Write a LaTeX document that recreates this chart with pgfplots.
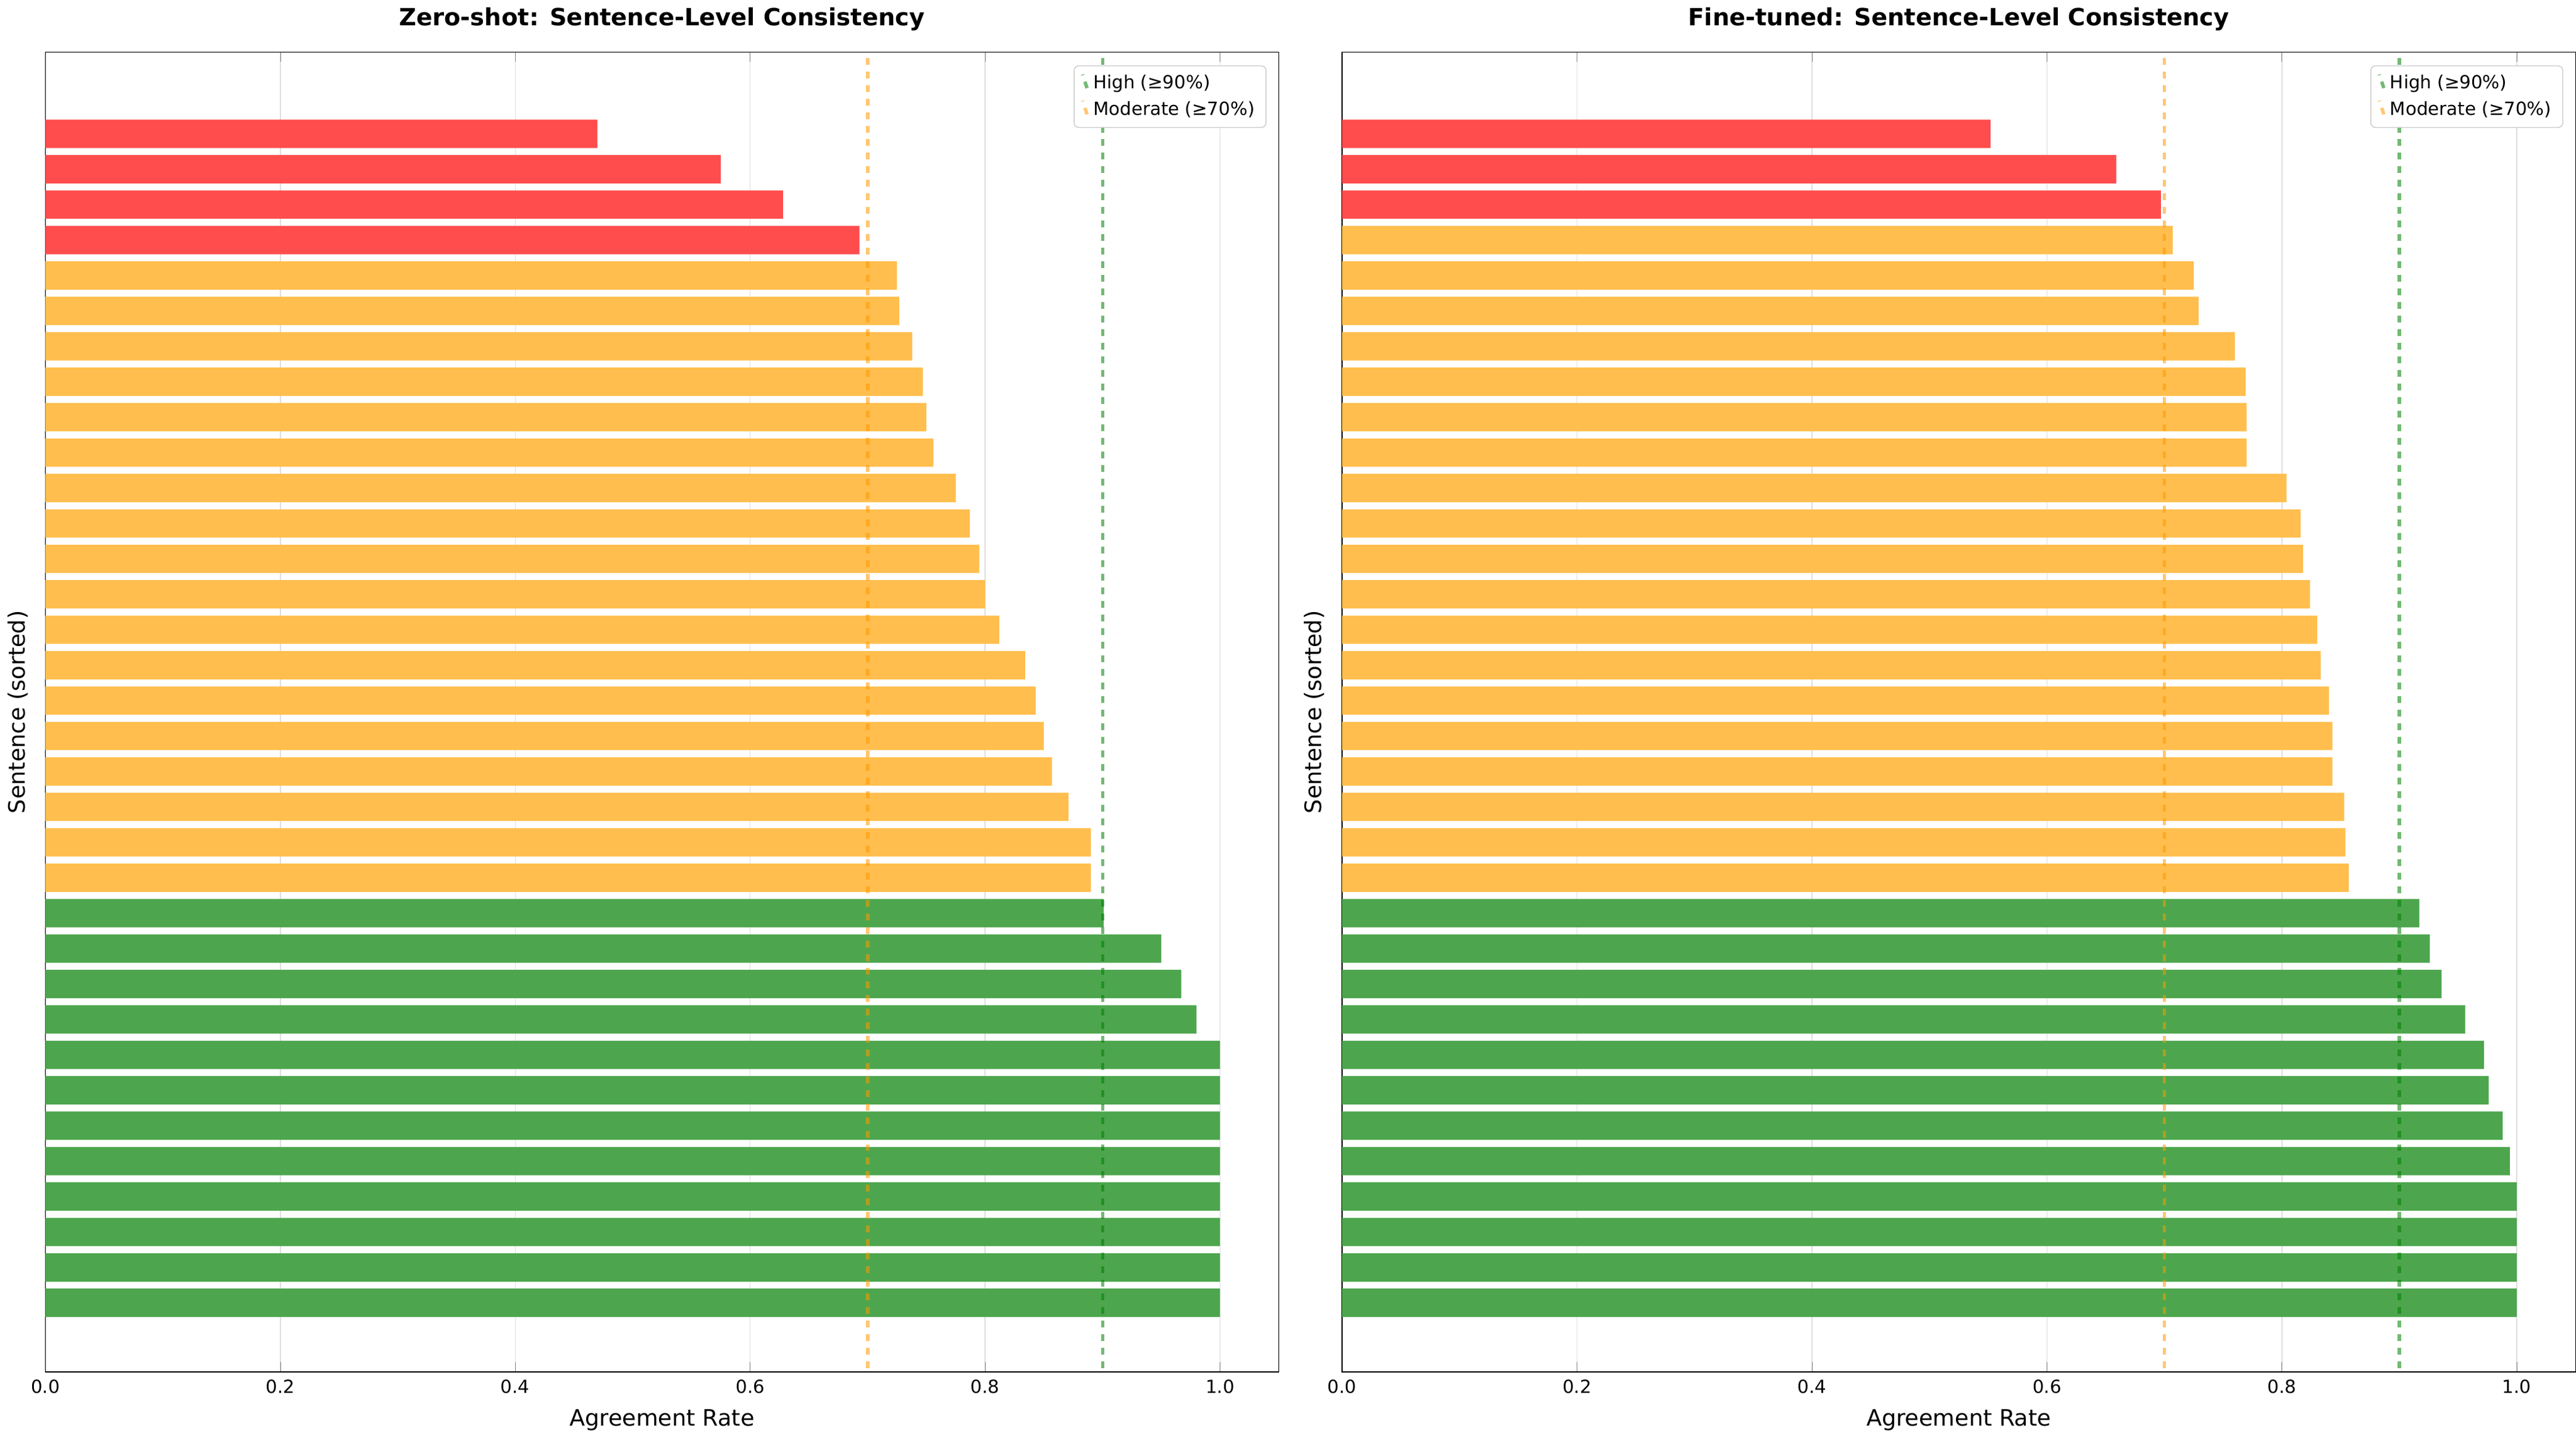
\documentclass[border=0pt]{standalone}
\usepackage{pgfplots}
\pgfplotsset{compat=1.18}
\usepackage{fontspec}
\setmainfont{DejaVu Sans}
\definecolor{cr}{RGB}{255,77,77}
\definecolor{co}{RGB}{255,190,77}
\definecolor{cg}{RGB}{77,166,77}
\pgfplotsset{panel/.style={
 scale only axis, width=545pt, height=583pt,
 xmin=0, xmax=1.05, ymin=-1.95, ymax=35.3,
 ytick=\empty, xtick={0,0.2,0.4,0.6,0.8,1.0},
 xticklabel style={/pgf/number format/.cd,fixed,fixed zerofill,precision=1},
 /pgf/number format/assume math mode=true,
 tick label style={font=\fontsize{8}{9}\selectfont},
 xmajorgrids, grid style={gray!25},
 xbar, bar width=0.8, bar shift=0pt,
 xlabel={Agreement Rate}, ylabel={Sentence (sorted)},
 label style={font=\fontsize{10}{12}\selectfont},
 title style={font=\bfseries\fontsize{10.5}{12}\selectfont},
 legend style={at={(0.99,0.99)},anchor=north east,font=\fontsize{8}{10}\selectfont,draw=gray!40,rounded corners=2pt},
 legend cell align=left,
}}
\begin{document}
\begin{tikzpicture}
\begin{axis}[panel, title={Zero-shot: Sentence-Level Consistency}]
\addplot[fill=cr,draw=none,forget plot] coordinates {(0.47,33)(0.575,32)(0.628,31)(0.693,30)};
\addplot[fill=co,draw=none,forget plot] coordinates {(0.725,29)(0.727,28)(0.738,27)(0.747,26)(0.75,25)(0.756,24)(0.775,23)(0.787,22)(0.795,21)(0.8,20)(0.812,19)(0.834,18)(0.843,17)(0.85,16)(0.857,15)(0.871,14)(0.89,13)(0.89,12)};
\addplot[fill=cg,draw=none,forget plot] coordinates {(0.901,11)(0.95,10)(0.967,9)(0.98,8)(1,7)(1,6)(1,5)(1,4)(1,3)(1,2)(1,1)(1,0)};
\addplot[xbar=false,sharp plot,green!50!black,opacity=0.55,dashed,line width=1.5pt] coordinates {(0.9,-3)(0.9,37)};
\addlegendentry{High (≥90\%)}
\addplot[xbar=false,sharp plot,orange!80!yellow,opacity=0.55,dashed,line width=1.5pt] coordinates {(0.7,-3)(0.7,37)};
\addlegendentry{Moderate (≥70\%)}
\end{axis}
\begin{axis}[panel, xshift=573pt, title={Fine-tuned: Sentence-Level Consistency}]
\addplot[fill=cr,draw=none,forget plot] coordinates {(0.552,33)(0.659,32)(0.697,31)};
\addplot[fill=co,draw=none,forget plot] coordinates {(0.707,30)(0.725,29)(0.729,28)(0.76,27)(0.769,26)(0.77,25)(0.77,24)(0.804,23)(0.816,22)(0.818,21)(0.824,20)(0.83,19)(0.833,18)(0.84,17)(0.843,16)(0.843,15)(0.853,14)(0.854,13)(0.857,12)};
\addplot[fill=cg,draw=none,forget plot] coordinates {(0.917,11)(0.926,10)(0.936,9)(0.956,8)(0.972,7)(0.976,6)(0.988,5)(0.994,4)(1,3)(1,2)(1,1)(1,0)};
\addplot[xbar=false,sharp plot,green!50!black,opacity=0.55,dashed,line width=1.5pt] coordinates {(0.9,-3)(0.9,37)};
\addlegendentry{High (≥90\%)}
\addplot[xbar=false,sharp plot,orange!80!yellow,opacity=0.55,dashed,line width=1.5pt] coordinates {(0.7,-3)(0.7,37)};
\addlegendentry{Moderate (≥70\%)}
\end{axis}
\end{tikzpicture}
\end{document}
